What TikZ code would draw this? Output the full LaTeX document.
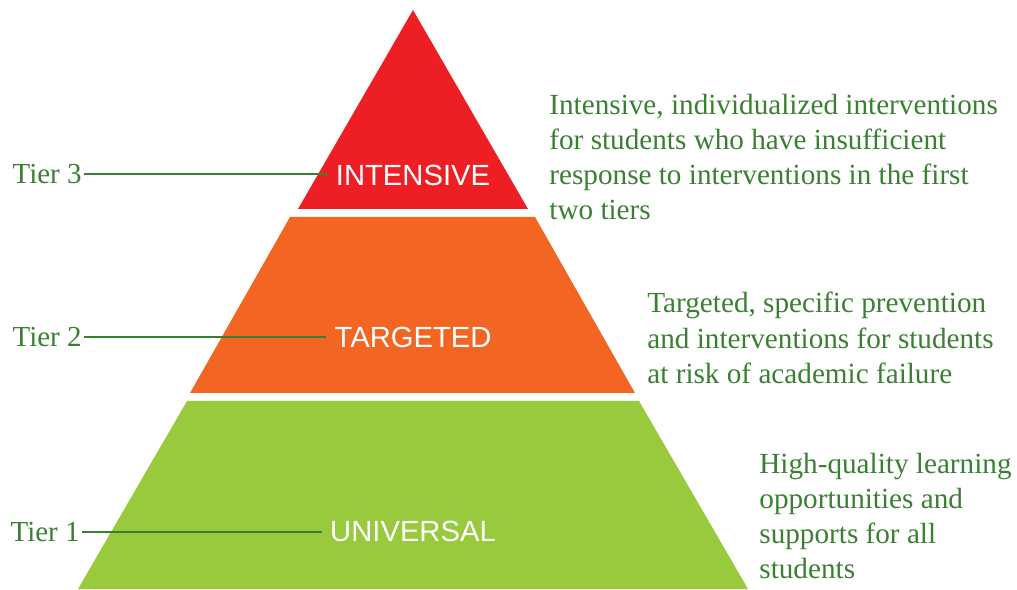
\documentclass[tikz,border=0pt]{standalone}
\usepackage{fontspec}
\setmainfont{Liberation Serif}
\setsansfont{Liberation Sans}

\definecolor{tierred}{HTML}{ED1F25}
\definecolor{tierorange}{HTML}{F26522}
\definecolor{tiergreen}{HTML}{99C93C}
\definecolor{textgreen}{HTML}{3A7F32}

\begin{document}
\begin{tikzpicture}[x=0.5pt,y=0.5pt,
    tier/.style={text=textgreen, font=\fontsize{14.5}{17.5}\selectfont, inner sep=1pt, anchor=east},
    level/.style={text=white, font=\sffamily\fontsize{14.6}{17}\selectfont, inner sep=4pt},
    note/.style={text=textgreen, font=\fontsize{14.6}{17.6}\selectfont, align=left, anchor=west, inner sep=0pt},
    link/.style={textgreen, line width=1.3pt}]
      \useasboundingbox (0,0) rectangle (1017,589);

      % pyramid
      \fill[tierred]    (298,380) -- (528,380) -- (413,579) -- cycle;
      \fill[tierorange] (190,196) -- (635,196) -- (535,372) -- (290,372) -- cycle;
      \fill[tiergreen]  ( 78,  0) -- (748,  0) -- (639,188) -- (187,188) -- cycle;

      \node[level](intensive) at (413,414){INTENSIVE};
      \node[level](targeted)  at (413,252){TARGETED};
      \node[level](universal) at (413, 58){UNIVERSAL};

      \node[tier](t3) at (84,415){Tier 3};
      \node[tier](t2) at (84,252){Tier 2};
      \node[tier](t1) at (82, 57){Tier 1};

      \foreach \t\l in {t3/intensive,t2/targeted,t1/universal} {
        \draw[link] (\t.east) -- (\t.east -| \l.west);
      }

      \node[note](n3) at (549,432){Intensive, individualized interventions\\
        for students who have insufficient\\
        response to interventions in the first\\
        two tiers};
      \node[note](n2) at (647,251){Targeted, specific prevention\\
        and interventions for students\\
        at risk of academic failure};
      \node[note](n1) at (759, 73){High-quality learning\\
        opportunities and\\
        supports for all\\
        students};
    \end{tikzpicture}
\end{document}
